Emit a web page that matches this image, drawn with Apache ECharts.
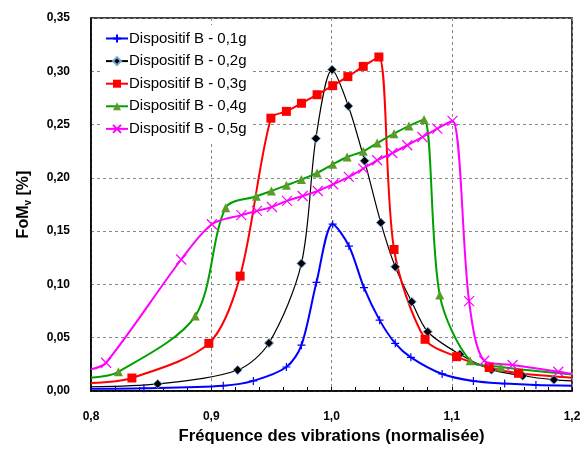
<!DOCTYPE html>
<html>
<head>
<meta charset="utf-8">
<script src="https://cdn.jsdelivr.net/npm/echarts@6/dist/echarts.min.js"></script>
<style>
  html, body { margin: 0; padding: 0; background: #fff; }
  #chart { width: 588px; height: 450px; }
</style>
</head>
<body>
<div id="chart"></div>
<script>
// tick labels
var xTicks = [0.8, 0.9, 1.0, 1.1, 1.2];
var yTicks = [0, 0.05, 0.10, 0.15, 0.20, 0.25, 0.30, 0.35];

// Dispositif B - 0,1g
var x01 = [0.8, 0.844, 0.91, 0.935, 0.9625, 0.975, 0.9875, 1.001, 1.0145, 1.027, 1.04, 1.053, 1.066, 1.092, 1.118, 1.144, 1.17, 1.2];
var y01 = [0.002, 0.0025, 0.005, 0.0095, 0.0225, 0.043, 0.102, 0.1565, 0.136, 0.097, 0.0665, 0.0447, 0.0316, 0.016, 0.0094, 0.007, 0.0056, 0.005];
// Dispositif B - 0,2g
var x02 = [0.8, 0.8555, 0.922, 0.948, 0.975, 0.987, 1.0005, 1.014, 1.0275, 1.041, 1.053, 1.0667, 1.080, 1.1067, 1.133, 1.159, 1.185, 1.2];
var y02 = [0.004, 0.0066, 0.0197, 0.045, 0.1197, 0.237, 0.3015, 0.2674, 0.216, 0.158, 0.1165, 0.0837, 0.0556, 0.0344, 0.0200, 0.0143, 0.0105, 0.0095];
// Dispositif B - 0,3g
var x03 = [0.8, 0.834, 0.898, 0.924, 0.9496, 0.9625, 0.975, 0.988, 1.001, 1.0136, 1.0264, 1.0394, 1.052, 1.0778, 1.104, 1.1311, 1.1555, 1.2];
var y03 = [0.0075, 0.0122, 0.0447, 0.1078, 0.256, 0.2624, 0.270, 0.278, 0.2865, 0.295, 0.3046, 0.3134, 0.1328, 0.0485, 0.0322, 0.022, 0.0166, 0.0125];
// Dispositif B - 0,4g
var x04 = [0.8, 0.8228, 0.8867, 0.912, 0.9375, 0.95, 0.9625, 0.975, 0.988, 1.001, 1.013, 1.0264, 1.038, 1.052, 1.0644, 1.077, 1.09, 1.1153, 1.1408, 1.2];
var y04 = [0.0125, 0.018, 0.0703, 0.172, 0.1828, 0.1877, 0.193, 0.1984, 0.2046, 0.2127, 0.2196, 0.2249, 0.2327, 0.2415, 0.2487, 0.2548, 0.09, 0.0284, 0.0225, 0.0155];
// Dispositif B - 0,5g
var x05 = [0.8, 0.8125, 0.875, 0.9005, 0.925, 0.938, 0.9505, 0.963, 0.976, 0.9886, 1.0014, 1.0144, 1.0264, 1.038, 1.0506, 1.063, 1.0756, 1.088, 1.1006, 1.1144, 1.127, 1.1506, 1.1886, 1.2];
var y05 = [0.0203, 0.0265, 0.1234, 0.1565, 0.165, 0.169, 0.1727, 0.1784, 0.183, 0.1877, 0.194, 0.2009, 0.2087, 0.2165, 0.2233, 0.2306, 0.2383, 0.2462, 0.2535, 0.0843, 0.0284, 0.0244, 0.0181, 0.016];

var names = ['Dispositif B - 0,1g', 'Dispositif B - 0,2g', 'Dispositif B - 0,3g', 'Dispositif B - 0,4g', 'Dispositif B - 0,5g'];

var FONT = '"Liberation Sans", Arial, sans-serif';
var PLUS = 'path://M5,0L5,10M0,5L10,5';
var CROSS = 'path://M0,0L10,10M10,0L0,10';

// points on the plot edges carry no marker
function pts(xs, ys) {
    return xs.map(function (x, i) {
        if (x <= 0.8 || x >= 1.2) return { value: [x, ys[i]], symbol: 'none' };
        return [x, ys[i]];
    });
}

function comma(v, d) {
    return v.toFixed(d).replace('.', ',');
}

var chart = echarts.init(document.getElementById('chart'));
chart.setOption({
    animation: false,
    backgroundColor: '#fff',
    textStyle: { fontFamily: FONT },
    grid: {
        left: 91, right: 16, top: 18, bottom: 59,
        show: true, borderColor: '#000', borderWidth: 1.5, backgroundColor: 'transparent'
    },
    legend: {
        orient: 'vertical',
        left: 101, top: 25,
        itemWidth: 22, itemHeight: 10, itemGap: 7.6,
        backgroundColor: '#fff',
        padding: [6, 4, 6, 4],
        textStyle: { fontFamily: FONT, fontSize: 15, lineHeight: 14, color: '#000', padding: [0, 0, 0, -4] },
        data: names
    },
    xAxis: {
        type: 'value',
        min: 0.8, max: 1.2, interval: 0.1,
        name: 'Fréquence des vibrations (normalisée)',
        nameLocation: 'middle', nameGap: 32,
        nameTextStyle: { fontFamily: FONT, fontSize: 16.7, fontWeight: 'bold', color: '#000' },
        axisLine: { lineStyle: { color: '#000', width: 1.5 } },
        axisTick: { show: true, inside: true, length: 4, lineStyle: { color: '#000' } },
        minorTick: { show: true, splitNumber: 5, length: 4, lineStyle: { color: '#000' } },
        axisLabel: {
            margin: 20, fontFamily: FONT, fontSize: 12, fontWeight: 'bold', color: '#000',
            formatter: function (v) { return comma(v, 1); }
        },
        splitLine: { show: true, lineStyle: { color: '#888', type: [3, 3], width: 1 } }
    },
    yAxis: {
        type: 'value',
        min: 0, max: 0.35, interval: 0.05,
        name: 'FoM{sub|v} [%]',
        nameLocation: 'middle', nameGap: 58,
        nameTextStyle: {
            fontFamily: FONT, fontSize: 16, fontWeight: 'bold', color: '#000',
            rich: { sub: { fontFamily: FONT, fontSize: 10, fontWeight: 'bold', color: '#000', verticalAlign: 'bottom', padding: [9, 0, 0, 0] } }
        },
        axisLine: { lineStyle: { color: '#000', width: 1.5 } },
        axisTick: { show: false },
        axisLabel: {
            margin: 21, fontFamily: FONT, fontSize: 12, fontWeight: 'bold', color: '#000',
            formatter: function (v) { return comma(v, 2); }
        },
        splitLine: { show: true, lineStyle: { color: '#888', type: [3, 3], width: 1 } }
    },
    series: [
        {
            name: names[0], type: 'line', smooth: 0.3, data: pts(x01, y01),
            symbol: PLUS, symbolSize: 8,
            lineStyle: { color: '#0000ff', width: 2 },
            itemStyle: { color: '#0000ff', borderColor: '#0000ff', borderWidth: 1.2 }
        },
        {
            name: names[1], type: 'line', smooth: 0.3, data: pts(x02, y02),
            symbol: 'diamond', symbolSize: 9,
            lineStyle: { color: '#000', width: 1.2 },
            itemStyle: { color: '#000', borderColor: '#7aa6d6', borderWidth: 1 }
        },
        {
            name: names[2], type: 'line', smooth: 0.3, data: pts(x03, y03),
            symbol: 'rect', symbolSize: 9,
            lineStyle: { color: '#ff0000', width: 2 },
            itemStyle: { color: '#ff0000', borderColor: '#ff0000', borderWidth: 0 }
        },
        {
            name: names[3], type: 'line', smooth: 0.3, data: pts(x04, y04),
            symbol: 'triangle', symbolSize: 9,
            lineStyle: { color: '#00a000', width: 2 },
            itemStyle: { color: '#5c9a2a', borderColor: '#5c9a2a', borderWidth: 0 }
        },
        {
            name: names[4], type: 'line', smooth: 0.3, data: pts(x05, y05),
            symbol: CROSS, symbolSize: 10,
            lineStyle: { color: '#ff00ff', width: 2 },
            itemStyle: { color: '#ff00ff', borderColor: '#ff00ff', borderWidth: 1.2 }
        }
    ]
});
</script>
</body>
</html>
